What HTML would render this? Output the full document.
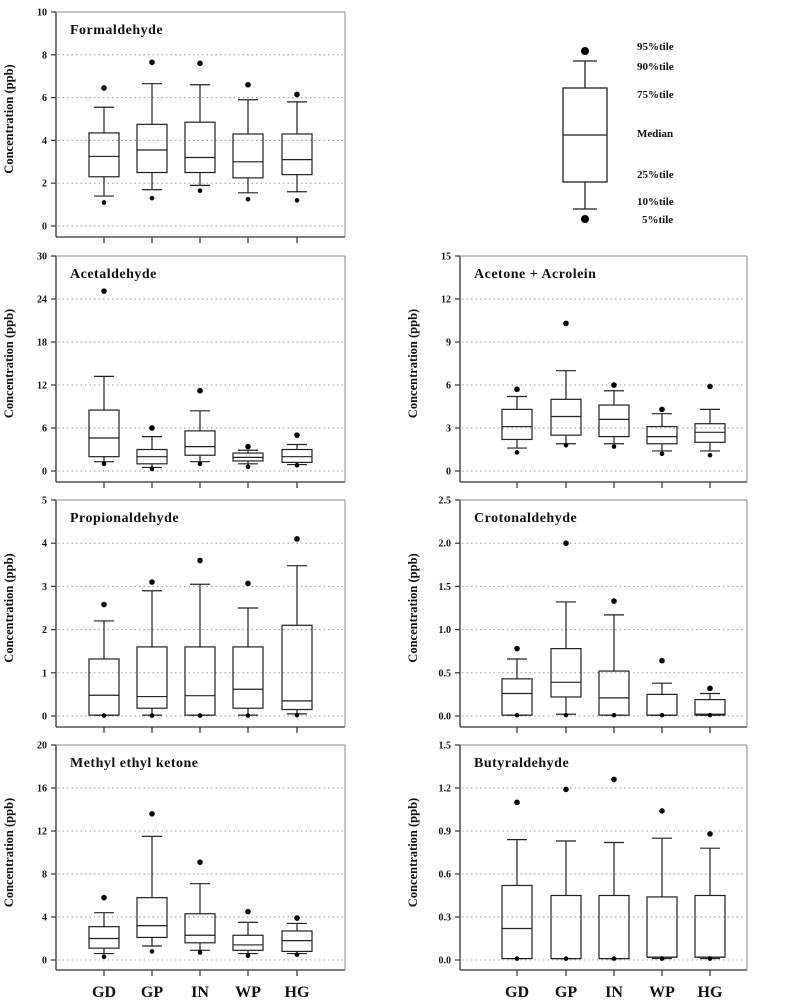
<!DOCTYPE html>
<html><head><meta charset="utf-8"><style>
body{margin:0;background:#fff;}
svg{display:block;font-family:"Liberation Serif",serif;}
</style></head><body>
<svg id="chart" width="808" height="1000" viewBox="0 0 808 1000">
<g id="legend">
<circle cx="585" cy="51" r="4" fill="#000"/>
<line x1="573" y1="61" x2="597" y2="61" stroke="#222" stroke-width="1.3"/>
<line x1="585" y1="61" x2="585" y2="88" stroke="#222" stroke-width="1.3"/>
<rect x="563" y="88" width="44" height="94" fill="none" stroke="#222" stroke-width="1.3"/>
<line x1="563" y1="135" x2="607" y2="135" stroke="#222" stroke-width="1.3"/>
<line x1="585" y1="182" x2="585" y2="209" stroke="#222" stroke-width="1.3"/>
<line x1="573" y1="209" x2="597" y2="209" stroke="#222" stroke-width="1.3"/>
<circle cx="585" cy="219" r="4" fill="#000"/>
<g font-size="11" font-weight="bold" fill="#111">
<text x="637" y="50">95%tile</text>
<text x="637" y="70">90%tile</text>
<text x="637" y="98">75%tile</text>
<text x="637" y="137">Median</text>
<text x="637" y="178">25%tile</text>
<text x="637" y="205">10%tile</text>
<text x="642" y="223">5%tile</text>
</g>
</g>
</svg>
<script>
const sites = ["GD","GP","IN","WP","HG"];
// each: [p5,p10,p25,median,p75,p90,p95]
const formaldehyde = [[1.1,1.4,2.3,3.25,4.35,5.55,6.45],[1.3,1.7,2.5,3.55,4.75,6.65,7.65],[1.65,1.9,2.5,3.2,4.85,6.6,7.6],[1.25,1.55,2.25,3.0,4.3,5.9,6.6],[1.2,1.6,2.4,3.1,4.3,5.8,6.15]];
const acetaldehyde = [[1.0,1.3,2.0,4.6,8.5,13.2,25.1],[0.3,0.5,1.0,2.0,3.0,4.8,6.0],[1.0,1.3,2.2,3.4,5.6,8.4,11.2],[0.6,1.0,1.4,1.9,2.5,2.9,3.4],[0.8,0.9,1.2,2.0,3.0,3.7,5.0]];
const acetone = [[1.3,1.6,2.2,3.1,4.3,5.2,5.7],[1.8,1.9,2.5,3.8,5.0,7.0,10.3],[1.7,1.9,2.4,3.6,4.6,5.6,6.0],[1.2,1.4,1.9,2.4,3.1,4.0,4.3],[1.1,1.4,2.0,2.7,3.3,4.3,5.9]];
const propionaldehyde = [[0.01,0.02,0.02,0.48,1.32,2.2,2.58],[0.01,0.02,0.18,0.45,1.6,2.9,3.1],[0.01,0.02,0.02,0.47,1.6,3.05,3.6],[0.01,0.02,0.18,0.62,1.6,2.5,3.07],[0.02,0.05,0.15,0.35,2.1,3.48,4.1]];
const crotonaldehyde = [[0.01,0.01,0.01,0.26,0.43,0.66,0.78],[0.01,0.02,0.22,0.39,0.78,1.32,2.0],[0.01,0.01,0.01,0.21,0.52,1.17,1.33],[0.01,0.01,0.01,0.01,0.25,0.38,0.64],[0.01,0.01,0.01,0.02,0.19,0.26,0.32]];
const mek = [[0.3,0.6,1.1,2.0,3.1,4.4,5.8],[0.8,1.3,2.1,3.2,5.8,11.5,13.6],[0.7,0.9,1.6,2.3,4.3,7.1,9.1],[0.4,0.6,0.9,1.4,2.3,3.5,4.5],[0.5,0.6,0.8,1.8,2.7,3.4,3.9]];
const butyraldehyde = [[0.01,0.01,0.01,0.22,0.52,0.84,1.1],[0.01,0.01,0.01,0.01,0.45,0.83,1.19],[0.01,0.01,0.01,0.01,0.45,0.82,1.26],[0.01,0.01,0.02,0.02,0.44,0.85,1.04],[0.01,0.01,0.02,0.02,0.45,0.78,0.88]];
const ticksF = ["0","2","4","6","8","10"];
const ticksA = ["0","6","12","18","24","30"];
const ticksAc = ["0","3","6","9","12","15"];
const ticksP = ["0","1","2","3","4","5"];
const ticksC = ["0.0","0.5","1.0","1.5","2.0","2.5"];
const ticksM = ["0","4","8","12","16","20"];
const ticksB = ["0.0","0.3","0.6","0.9","1.2","1.5"];

const NS="http://www.w3.org/2000/svg";
const svg=document.getElementById('chart');
function mk(tag,attrs,parent){const e=document.createElementNS(NS,tag);for(const k in attrs)e.setAttribute(k,attrs[k]);parent.appendChild(e);return e;}

const panels=[
 {name:"formaldehyde",title:"Formaldehyde",data:formaldehyde,ticks:ticksF,col:0,row:0},
 {name:"acetaldehyde",title:"Acetaldehyde",data:acetaldehyde,ticks:ticksA,col:0,row:1},
 {name:"acetone-acrolein",title:"Acetone + Acrolein",data:acetone,ticks:ticksAc,col:1,row:1},
 {name:"propionaldehyde",title:"Propionaldehyde",data:propionaldehyde,ticks:ticksP,col:0,row:2},
 {name:"crotonaldehyde",title:"Crotonaldehyde",data:crotonaldehyde,ticks:ticksC,col:1,row:2},
 {name:"methyl-ethyl-ketone",title:"Methyl ethyl ketone",data:mek,ticks:ticksM,col:0,row:3},
 {name:"butyraldehyde",title:"Butyraldehyde",data:butyraldehyde,ticks:ticksB,col:1,row:3}
];
const rowTop=[12,256,500,745], rowZero=[226,471,716,960], rowAxis=[237,482,727,970];
const colLeft=[56,460], colRight=[345,747];
const colCenters=[[104,152,200,248,297],[517,566,614,662,710]];

panels.forEach(p=>{
 const g=mk('g',{},svg);
 
 
 const L=colLeft[p.col],R=colRight[p.col],T=rowTop[p.row],Z=rowZero[p.row],A=rowAxis[p.row];
 const tmax=parseFloat(p.ticks[p.ticks.length-1]);
 const y=v=>Z-(v/tmax)*(Z-T);
 mk('line',{x1:L,y1:T,x2:L,y2:A,stroke:'#333','stroke-width':1.3},g);
 mk('line',{x1:L,y1:A,x2:R,y2:A,stroke:'#333','stroke-width':1.3},g);
 mk('line',{x1:L,y1:T,x2:R,y2:T,stroke:'#888','stroke-width':1},g);
 mk('line',{x1:R,y1:T,x2:R,y2:A,stroke:'#888','stroke-width':1},g);
 p.ticks.forEach((t,i)=>{
  const v=parseFloat(t),yy=y(v);
  mk('line',{x1:L-5,y1:yy,x2:L,y2:yy,stroke:'#333','stroke-width':1.2},g);
  if(i<p.ticks.length-1){
   const gl=mk('line',{x1:L+2,y1:yy,x2:R-2,y2:yy,stroke:'#999','stroke-width':1,'stroke-dasharray':'1.5,3'},g);
   
   
  }
  const tx=mk('text',{x:L-9,y:yy+3.5,'text-anchor':'end','font-size':10,'font-weight':'bold',fill:'#111'},g);
  tx.textContent=t;
  
  
 });
 const cx0=L-43, cy0=(T+Z)/2;
 const yl=mk('text',{x:cx0,y:cy0,transform:`rotate(-90 ${cx0} ${cy0})`,'text-anchor':'middle','font-size':12.5,'font-weight':'bold',fill:'#111'},g);
 yl.textContent='Concentration (ppb)';
 
 
 const ti=mk('text',{x:L+14,y:T+22,'font-size':14,'font-weight':'bold',fill:'#111','letter-spacing':'0.5'},g);
 ti.textContent=p.title;
 
 
 p.data.forEach((d,i)=>{
  const cx=colCenters[p.col][i];
  mk('line',{x1:cx,y1:A,x2:cx,y2:A+6,stroke:'#333','stroke-width':1.2},g);
  const b=mk('g',{stroke:'#222','stroke-width':1.2,fill:'none'},g);
  
  
  const w=15,cap=10;
  mk('line',{x1:cx,y1:y(d[5]),x2:cx,y2:y(d[4])},b);
  mk('line',{x1:cx-cap,y1:y(d[5]),x2:cx+cap,y2:y(d[5])},b);
  mk('line',{x1:cx,y1:y(d[2]),x2:cx,y2:y(d[1])},b);
  mk('line',{x1:cx-cap,y1:y(d[1]),x2:cx+cap,y2:y(d[1])},b);
  mk('rect',{x:cx-w,y:y(d[4]),width:2*w,height:Math.max(0.5,y(d[2])-y(d[4]))},b);
  mk('line',{x1:cx-w,y1:y(d[3]),x2:cx+w,y2:y(d[3])},b);
  mk('circle',{cx:cx,cy:y(d[6]),r:2.8,fill:'#000',stroke:'none'},b);
  mk('circle',{cx:cx,cy:y(d[0]),r:2.3,fill:'#000',stroke:'none'},b);
 });
 if(p.row===3){
  sites.forEach((s,i)=>{
   const t=mk('text',{x:colCenters[p.col][i],y:997,'text-anchor':'middle','font-size':16,'font-weight':'bold',fill:'#111'},g);
   t.textContent=s;
   
   
  });
 }
});
</script>
</body></html>
